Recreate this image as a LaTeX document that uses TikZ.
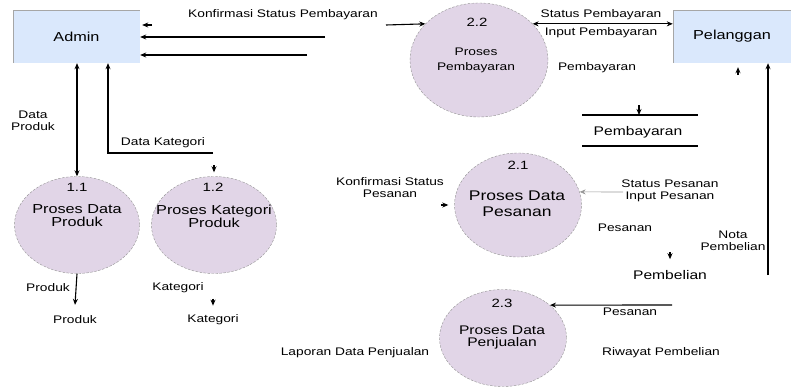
\documentclass[tikz,border=0pt]{standalone}
\usepackage{fontspec}
\setmainfont{Liberation Sans}[FakeStretch=1.25]
\usetikzlibrary{shapes.geometric,arrows.meta}
\definecolor{procfill}{HTML}{E1D5E7}
\definecolor{entfill}{HTML}{DAE8FC}

\begin{document}
\begin{tikzpicture}[x=1pt,y=-1pt,
  ent/.style={fill=entfill, inner sep=0pt, minimum height=53pt, font=\fontsize{13}{15}\selectfont},
  proc/.style={ellipse, fill=procfill, draw=gray!85, dash pattern=on 2.5pt off 1.5pt, inner sep=0pt},
  ttl/.style 2 args={inner sep=0pt, align=center, font=\fontsize{#1}{#2}\selectfont},
  num/.style={inner sep=0pt, font=\fontsize{12}{14}\selectfont},
  lbl/.style={inner sep=0pt, align=center, font=\fontsize{11}{12}\selectfont},
  store/.style={inner sep=0pt, font=\fontsize{12.5}{14}\selectfont},
  flow/.style={line width=1.1pt, -{Stealth[length=6pt,width=5pt]}},
  flow2/.style={line width=1.1pt, {Stealth[length=6pt,width=5pt]}-{Stealth[length=6pt,width=5pt]}}]
\useasboundingbox (0,0) rectangle (791,388);

% entities
\node [ent, minimum width=127pt] (admin) at (76.5,36.5) {Admin};
\node [ent, minimum width=118pt] (pelanggan) at (732,36.5) {Pelanggan};
\draw [gray!70] (admin.south west) -- (admin.north west) -- (admin.north east);
\draw [gray!70] (pelanggan.south west) -- (pelanggan.north west) -- (pelanggan.north east);

% processes
\node [proc, minimum width=138pt, minimum height=114pt] (p22) at (479,60) {};
\node [proc, minimum width=125pt, minimum height=97pt] (p11) at (77,225) {};
\node [proc, minimum width=125pt, minimum height=97pt] (p12) at (214,225) {};
\node [proc, minimum width=127pt, minimum height=104pt] (p21) at (518,205) {};
\node [proc, minimum width=127pt, minimum height=97pt] (p23) at (503,338) {};

\node [num] (n22) at (477,22) {2.2};
\node [ttl={11}{15}] (t22) at (476,60.5) {Proses\\Pembayaran};
\node [num] (n11) at (77,187) {1.1};
\node [ttl={13}{13}] (t11) at (77,216) {Proses Data\\Produk};
\node [num] (n12) at (213,187) {1.2};
\node [ttl={13}{13}] (t12) at (214,216) {Proses Kategori\\Produk};
\node [num] (n21) at (518,165) {2.1};
\node [ttl={14}{16}] (t21) at (517,203.5) {Proses Data\\Pesanan};
\node [num] (n23) at (502,303) {2.3};
\node [ttl={12.5}{12}] (t23) at (502,337.5) {Proses Data\\Penjualan};

% labels
\node [lbl] (kspb) at (283,15) {Konfirmasi Status Pembayaran};
\node [lbl] (spb) at (601,15) {Status Pembayaran};
\node [lbl] (ipb) at (601,33) {Input Pembayaran};
\node [lbl] (pby) at (597,68) {Pembayaran};
\node [store] (dpb) at (638,132) {Pembayaran};
\node [lbl] (dprod) at (33,121) {Data\\Produk};
\node [lbl] (dkat) at (163,143) {Data Kategori};
\node [lbl] (prod1) at (48,288) {Produk};
\node [lbl] (prod2) at (75,320) {Produk};
\node [lbl] (kat1) at (178,288) {Kategori};
\node [lbl] (kat2) at (213,320) {Kategori};
\node [lbl] (ksp) at (390,188) {Konfirmasi Status\\Pesanan};
\node [lbl] (stps) at (670,184) {Status Pesanan};
\node [lbl] (inps) at (670,197) {Input Pesanan};
\node [lbl] (pes1) at (625,228) {Pesanan};
\node [lbl] (nota) at (733,241) {Nota\\Pembelian};
\node [store] (pbl) at (670,275) {Pembelian};
\node [lbl] (pes2) at (630,312) {Pesanan};
\node [lbl] (rwy) at (661,353) {Riwayat Pembelian};
\node [lbl] (lap) at (355,353) {Laporan Data Penjualan};

% free ends
\coordinate (k1) at (325,37);
\coordinate (k2) at (307,55);
\coordinate (k3) at (152,25);
\coordinate (k4) at (386,25);
\coordinate (k5) at (213,153);
\coordinate (k7) at (623,192);
\coordinate (k8) at (768,275);
\coordinate (k9) at (672,305);
\coordinate (s1) at (582,115);
\coordinate (s2) at (698,115);
\coordinate (s3) at (582,146);
\coordinate (s4) at (698,146);
\coordinate (s5) at (639,105);

% flows
\draw [flow] (k1) -- (k1 -| admin.east);
\draw [flow] (k2) -- (k2 -| admin.east);
\draw [flow] (k3) -- ([xshift=2pt]k3 -| admin.east);
\draw [flow] (k4) -- (p22.146);
\draw [flow2] (p22.34) -- (p22.34 -| pelanggan.west);
\draw [flow2] (p11.north |- admin.south) -- (p11.north);
\draw [flow] (k5) -| ([xshift=31.5pt]admin.south);
\draw [flow] ([yshift=11pt]p12.north) -- ([yshift=4pt]p12.north);
\draw [flow] (p11.south) -- ([yshift=11pt]prod2.north);
\draw [flow] ([yshift=16pt]kat2.north) -- ([yshift=9pt]kat2.north);
\draw [flow] ([xshift=-13pt]p21.west) -- ([xshift=-6pt]p21.west);
\draw [flow, line width=0.6pt, gray!80] (k7) -- (p21.12);
\draw [flow] ([yshift=18pt]pbl.north) -- ([yshift=11pt]pbl.north);
\draw [flow] (k8) -- (k8 |- pelanggan.south);
\draw [flow] ([xshift=6pt,yshift=-12pt]pelanggan.south) -- ([xshift=6pt,yshift=-4pt]pelanggan.south);
\draw [flow] (k9) -- (p23.35);
\draw [line width=1.1pt] (s1) -- (s2) (s3) -- (s4);
\draw [flow] (s5) -- (s5 |- s1);
\end{tikzpicture}
\end{document}
